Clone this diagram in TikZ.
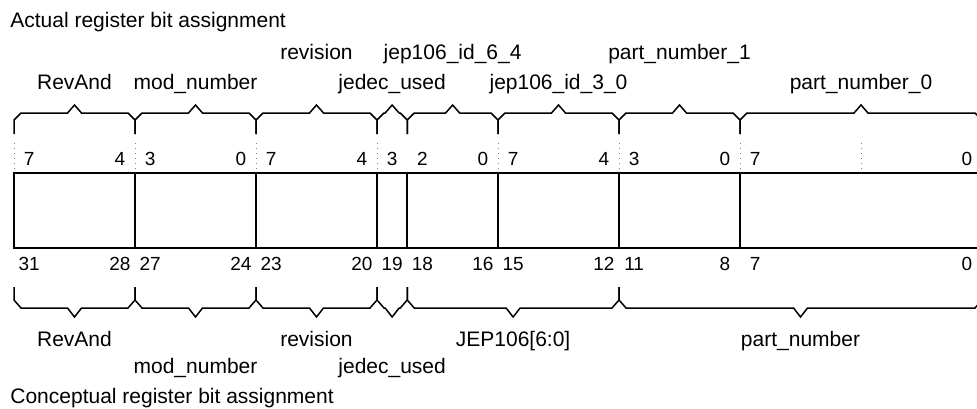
\documentclass[tikz,border=0pt]{standalone}
\usepackage{fontspec}
\setmainfont{Liberation Sans}
\usepackage{tikz}
\usetikzlibrary{positioning}

\begin{document}
\begin{tikzpicture}[
    x=0.5pt, y=-0.5pt,
    % Register cells
    cell/.style={draw, line width=1pt, inner sep=0, minimum height=37.5pt},
    bracket/.style={line width=0.75pt, line join=miter},
    guide/.style={gray, dotted, line width=0.5pt},
    % Labels
    title_text/.style={font=\fontsize{10.5}{12}\selectfont, inner sep=0, anchor=base west},
    field_text/.style={font=\fontsize{10.5}{12}\selectfont, inner sep=0, anchor=base},
    bit_text/.style={font=\fontsize{9.5}{11}\selectfont, inner sep=0, anchor=base}
]

    % --- CONFIGURATION ---
    \def\bitw{30.25}   % one bit in px
    \def\xo{14}        % left edge of bit 31

    \useasboundingbox (0,0) rectangle (977,408);
    \clip (0,0) rectangle (977,408);

    % --- TITLES ---
    \node[title_text] (actual) at (10,27) {Actual register bit assignment};
    \node[title_text] (concept) at (10,403) {Conceptual register bit assignment};

    % --- CELLS AND BIT NUMBERS ---
    \foreach \hi/\lo [count=\k] in {31/28, 27/24, 23/20, 19/19, 18/16, 15/12, 11/8, 7/0} {
        \pgfmathsetmacro\xa{\xo+(31-\hi)*\bitw}
        \pgfmathsetmacro\xb{\xo+(32-\lo)*\bitw}
        \pgfmathsetmacro\cellw{(\xb-\xa)*0.5}
        \node[cell, minimum width=\cellw pt] (cell-\k) at ({(\xa+\xb)/2},210.5) {};

        % bit numbers, byte relative above and absolute below
        \pgfmathsetmacro\xh{\xa+\bitw/2}
        \pgfmathtruncatemacro\bh{mod(\hi,8)}
        \node[bit_text] (top-hi-\k) at (\xh,165) {\bh};
        \node[bit_text] (bot-hi-\k) at (\xh,270) {\hi};
        \ifnum\hi>\lo
            \pgfmathsetmacro\xl{\xb-\bitw/2}
            \pgfmathtruncatemacro\bl{mod(\lo,8)}
            \node[bit_text] (top-lo-\k) at (\xl,165) {\bl};
            \node[bit_text] (bot-lo-\k) at (\xl,270) {\lo};
        \fi
    }

    % dotted byte guides over the cells
    \foreach \b in {31,27,23,19,15,11,7,3} {
        \draw[guide] ({\xo+(31-\b)*\bitw},143) -- ({\xo+(31-\b)*\bitw},173);
    }

    % --- ACTUAL FIELDS (braces above) ---
    \foreach \hi/\lo/\txt/\row [count=\k] in {
        31/28/RevAnd/89, 27/24/mod\_number/89, 23/20/revision/59,
        19/19/jedec\_used/89, 18/16/jep106\_id\_6\_4/59,
        15/12/jep106\_id\_3\_0/89, 11/8/part\_number\_1/59,
        7/0/part\_number\_0/89} {
        \pgfmathsetmacro\xa{\xo+(31-\hi)*\bitw}
        \pgfmathsetmacro\xb{\xo+(32-\lo)*\bitw}
        \pgfmathsetmacro\xc{(\xa+\xb)/2}
        \draw[bracket] (\xa,134) -- (\xa,120) -- ({\xa+7},113) -- ({\xc-7},113)
            -- (\xc,105) -- ({\xc+7},113) -- ({\xb-7},113) -- (\xb,120) -- (\xb,134);
        \node[field_text] (act-\k) at (\xc,\row) {\txt};
    }

    % --- CONCEPTUAL FIELDS (braces below) ---
    \foreach \hi/\lo/\txt/\row [count=\k] in {
        31/28/RevAnd/346, 27/24/mod\_number/373, 23/20/revision/346,
        19/19/jedec\_used/373, 18/12/{JEP106[6:0]}/346,
        11/0/part\_number/346} {
        \pgfmathsetmacro\xa{\xo+(31-\hi)*\bitw}
        \pgfmathsetmacro\xb{\xo+(32-\lo)*\bitw}
        \pgfmathsetmacro\xc{(\xa+\xb)/2}
        \draw[bracket] (\xa,287) -- (\xa,300) -- ({\xa+7},308) -- ({\xc-7},308)
            -- (\xc,317) -- ({\xc+7},308) -- ({\xb-7},308) -- (\xb,300) -- (\xb,287);
        \node[field_text] (con-\k) at (\xc,\row) {\txt};
    }

\end{tikzpicture}
\end{document}
